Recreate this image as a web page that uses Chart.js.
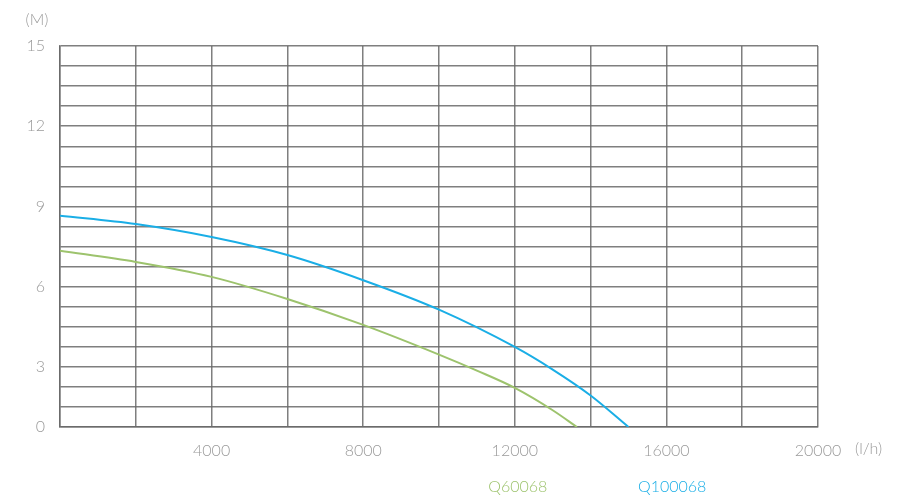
<!DOCTYPE html>
<html>
<head>
<meta charset="utf-8">
<script src="https://cdn.jsdelivr.net/npm/chart.js@4"></script>
<style>
  html, body { margin: 0; padding: 0; background: #fff; }
  #wrap { width: 900px; height: 500px; }
</style>
</head>
<body>
<div id="wrap"><canvas id="myChart" width="900" height="500"></canvas></div>
<script>
const ctx = document.getElementById('myChart').getContext('2d');

// flow (l/h) and head (M)
const flowQ100068 = [0, 2000, 4000, 6000, 8000, 10000, 12000, 13000, 14000, 15000];
const headQ100068 = [8.32, 7.99, 7.48, 6.77, 5.78, 4.62, 3.15, 2.26, 1.24, 0];

const flowQ60068 = [0, 2000, 4000, 6000, 8000, 10000, 11000, 12000, 13000, 13640];
const headQ60068 = [6.94, 6.50, 5.91, 5.04, 4.02, 2.85, 2.22, 1.54, 0.66, 0];

const seriesNames = ["Q60068", "Q100068"];
const seriesColors = ["#9dc36d", "#1aaee6"];

// y labels sit on gridlines 0,3,7,11,15,19 of 19 gridline steps
const yLabelSteps = [0, 3, 7, 11, 15, 19];
const yLabels = ["0", "3", "6", "9", "12", "15"];
const xLabels = ["4000", "8000", "12000", "16000", "20000"];

const textColor = "#9a9a9a";
const fontFamily = "Lato, 'Open Sans', sans-serif";

function points(xs, ys) {
    return xs.map((x, i) => ({ x: x, y: ys[i] }));
}

const extraText = {
    id: 'extraText',
    afterDraw(chart) {
        const c = chart.ctx;
        const xs = chart.scales.x;
        c.save();
        c.font = "300 16px " + fontFamily;
        c.textBaseline = 'middle';
        c.fillStyle = textColor;
        c.textAlign = 'center';
        c.fillText("(M)", 37, 20);
        c.textAlign = 'left';
        c.fillText("(l/h)", xs.right + 37, 449);
        c.fillStyle = seriesColors[0];
        c.fillText(seriesNames[0], xs.getPixelForValue(11300), 487);
        c.fillStyle = seriesColors[1];
        c.fillText(seriesNames[1], xs.getPixelForValue(15250), 487);
        c.restore();
    }
};

const gridColor = "rgba(105,105,105,0.85)";

const config = {
    type: "line",
    data: {
        datasets: [
            {
                label: seriesNames[0],
                data: points(flowQ60068, headQ60068),
                borderColor: seriesColors[0],
                borderWidth: 2,
                pointRadius: 0,
                cubicInterpolationMode: 'monotone',
                fill: false
            },
            {
                label: seriesNames[1],
                data: points(flowQ100068, headQ100068),
                borderColor: seriesColors[1],
                borderWidth: 2,
                pointRadius: 0,
                cubicInterpolationMode: 'monotone',
                fill: false
            }
        ]
    },
    options: {
        responsive: false,
        animation: false,
        layout: { padding: { top: 46, right: 82, left: 0, bottom: 0 } },
        plugins: {
            legend: { display: false },
            tooltip: { enabled: false }
        },
        scales: {
            x: {
                type: 'linear',
                min: 0,
                max: 20000,
                afterFit: function(scale) { scale.height = 73; },
                ticks: {
                    stepSize: 2000,
                    autoSkip: false,
                    maxRotation: 0,
                    padding: 14,
                    color: textColor,
                    font: { family: fontFamily, size: 16, weight: 300 },
                    callback: function(value) {
                        const s = String(value);
                        return xLabels.includes(s) ? s : "";
                    }
                },
                grid: { color: gridColor, lineWidth: 1.5, drawTicks: false },
                border: { color: gridColor, width: 1.5 }
            },
            y: {
                type: 'linear',
                min: 0,
                max: 15,
                afterFit: function(scale) { scale.width = 60; },
                afterBuildTicks: function(scale) {
                    const t = [];
                    for (let k = 0; k <= 19; k++) t.push({ value: k * 15 / 19 });
                    scale.ticks = t;
                },
                ticks: {
                    padding: 15,
                    autoSkip: false,
                    color: textColor,
                    font: { family: fontFamily, size: 16, weight: 300 },
                    callback: function(value, index) {
                        const j = yLabelSteps.indexOf(index);
                        return j >= 0 ? yLabels[j] : "";
                    }
                },
                grid: { color: gridColor, lineWidth: 1.5, drawTicks: false },
                border: { color: gridColor, width: 1.5 }
            }
        }
    },
    plugins: [extraText]
};

const myChart = new Chart(ctx, config);
</script>
</body>
</html>
